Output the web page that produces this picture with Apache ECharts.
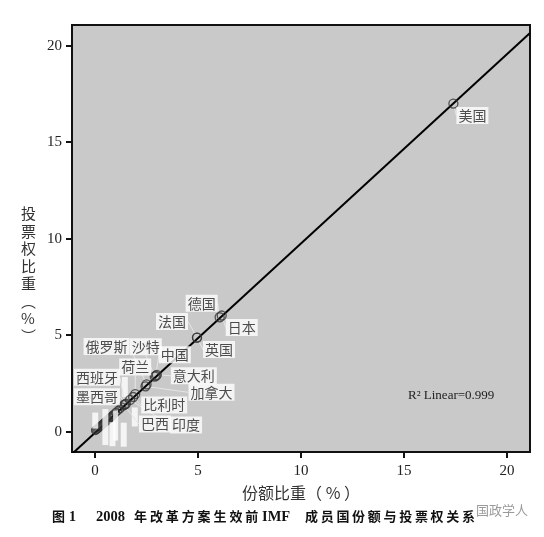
<!DOCTYPE html>
<html>
<head>
<meta charset="utf-8">
<script src="https://cdn.jsdelivr.net/npm/echarts@6/dist/echarts.min.js"></script>
<style>html,body{margin:0;padding:0;background:#fff;}#c{width:544px;height:537px;}</style>
</head>
<body>
<div id="c"></div>
<script>
// Labelled member countries
var countries = ['美国','日本','德国','法国','英国','中国','意大利','沙特','俄罗斯','加拿大','荷兰','比利时','印度','巴西','西班牙','墨西哥'];
var quotaShare = [17.4, 6.15, 6.05, 4.95, 4.95, 2.95, 3.0, 2.9, 2.5, 2.45, 1.95, 1.85, 1.7, 1.4, 1.45, 1.5];
var voteShare  = [17.0, 6.02, 5.93, 4.88, 4.88, 2.9, 2.95, 2.85, 2.45, 2.35, 1.95, 1.8, 1.65, 1.38, 1.42, 1.45];
// Unlabelled small members
var otherQuota = [1.3, 1.2, 1.1, 1.0, 0.9, 0.85, 0.8, 0.75, 0.7, 0.65, 0.6, 0.55, 0.5, 0.45, 0.4, 0.35, 0.3, 0.25, 0.2, 0.15, 0.1, 0.05, 0.02];
var otherVote  = [1.28, 1.18, 1.09, 0.99, 0.89, 0.84, 0.79, 0.74, 0.7, 0.65, 0.6, 0.56, 0.5, 0.46, 0.41, 0.37, 0.32, 0.28, 0.23, 0.18, 0.14, 0.1, 0.06];
// Fitted linear line endpoints
var fitX = [-1.12, 21.12];
var fitY = [-1.15, 20.66];
var tickValues = [0, 5, 10, 15, 20];

// label styling (offsets in px)
var labelOffsets = [[19,12],[20,12],[-18,-14],[-25,-16],[22,12],[19,-21],[37,1],[-9,-30],[-40,-38],[66,6],[0,-27],[31,8],[56,25],[31,19],[-28,-27],[-29,-7]];
// blank white label boxes on some small members: [index in other arrays, dx, dy, w, h]
var blankBoxes = [[16,-6,-5,6,16],[12,0,5,6,36],[8,3,16,6,24],[4,2,11,5,30],[2,6,24,6,24],[0,3,-20,6,20],[1,15,8,6,19]];

var labelled = countries.map(function(n,i){
  return {name: n, value: [quotaShare[i], voteShare[i]]};
});
var blankOffsetByIndex = {};
var others = otherQuota.map(function(q,i){
  var item = {value: [q, otherVote[i]]};
  blankBoxes.forEach(function(b){
    if (b[0] === i) {
      blankOffsetByIndex[i] = [b[1], b[2]];
      item.label = {show: true, position: 'inside', formatter: '\u00a0',
        width: b[3], height: b[4], padding: 0, backgroundColor: '#fff'};
    }
  });
  return item;
});

var serif = '"Liberation Serif", "DejaVu Serif", serif';
var cjk = '"Noto Sans CJK SC", sans-serif';

// caption pieces, spaced like the original print
var graphics = [
  {type: 'text', left: 21, top: 205, style: {text: '投\n票\n权\n比\n重\n︵\n%\n︶', font: '15px ' + cjk, fill: '#333', lineHeight: 17.5, align: 'center'}},
  {type: 'text', left: 408, top: 389, style: {text: 'R² Linear=0.999', font: '13px ' + serif, fill: '#222'}},
  {type: 'text', left: 52, top: 510, style: {text: '图', font: 'bold 13px ' + cjk, fill: '#111'}},
  {type: 'text', left: 69, top: 510, style: {text: '1', font: 'bold 14px ' + serif, fill: '#111'}},
  {type: 'text', left: 96, top: 510, style: {text: '2008', font: 'bold 14.5px ' + serif, fill: '#111'}},
  {type: 'text', left: 262, top: 510, style: {text: 'IMF', font: 'bold 14.5px ' + serif, fill: '#111'}},
  {type: 'text', left: 476, top: 504, style: {text: '国政学人', font: '13px ' + cjk, fill: '#9a9a9a'}}
];
function spaced(str, x0, pitch){
  str.split('').forEach(function(ch, i){
    graphics.push({type: 'text', left: x0 + i * pitch, top: 510, style: {text: ch, font: 'bold 13px ' + cjk, fill: '#111'}});
  });
}
spaced('年改革方案生效前', 134, 15.9);
spaced('成员国份额与投票权关系', 305, 15.7);

var chart = echarts.init(document.getElementById('c'), null, {renderer: 'canvas'});
chart.setOption({
  animation: false,
  grid: {left: 72, right: 14, top: 25, bottom: 85, show: true, backgroundColor: '#c9c9c9', borderColor: '#111', borderWidth: 2},
  xAxis: {
    type: 'value', min: -1.12, max: 21.12,
    axisLine: {show: true, onZero: false, lineStyle: {color: '#111', width: 2}},
    axisTick: {show: true, length: 6, lineStyle: {color: '#111', width: 2}, customValues: tickValues},
    axisLabel: {customValues: tickValues, color: '#222', fontFamily: serif, fontSize: 15, margin: 12},
    splitLine: {show: false},
    name: '份额比重（ % ）', nameLocation: 'middle', nameGap: 33,
    nameTextStyle: {fontFamily: cjk, fontSize: 16, color: '#333'}
  },
  yAxis: {
    type: 'value', min: -1.05, max: 21.07,
    axisLine: {show: true, onZero: false, lineStyle: {color: '#111', width: 2}},
    axisTick: {show: true, length: 6, lineStyle: {color: '#111', width: 2}, customValues: tickValues},
    axisLabel: {customValues: tickValues, color: '#222', fontFamily: serif, fontSize: 15, margin: 10},
    splitLine: {show: false}
  },
  series: [
    {
      type: 'line', data: fitX.map(function(x,i){return [x, fitY[i]];}),
      symbol: 'none', lineStyle: {color: '#000', width: 2}, z: 2, silent: true
    },
    {
      type: 'scatter', data: others, symbol: 'circle', symbolSize: 8,
      itemStyle: {color: 'rgba(0,0,0,0)', borderColor: '#333', borderWidth: 1.2},
      label: {show: false},
      labelLayout: function(p){
        var o = blankOffsetByIndex[p.dataIndex];
        return o ? {dx: o[0], dy: o[1], hideOverlap: false} : {};
      },
      z: 3
    },
    {
      type: 'scatter', data: labelled, symbol: 'circle', symbolSize: 9,
      itemStyle: {color: 'rgba(0,0,0,0)', borderColor: '#333', borderWidth: 1.3},
      label: {show: true, position: 'inside', formatter: '{b}', fontFamily: cjk, fontSize: 14, color: '#222', backgroundColor: '#fff', padding: [2, 2, 1, 2]},
      labelLine: {show: true, lineStyle: {color: '#e6e6e6', width: 1}},
      labelLayout: function(p){
        var o = labelOffsets[p.dataIndex];
        return {dx: o[0], dy: o[1], hideOverlap: false};
      },
      z: 4
    }
  ],
  graphic: graphics
});
</script>
</body>
</html>
